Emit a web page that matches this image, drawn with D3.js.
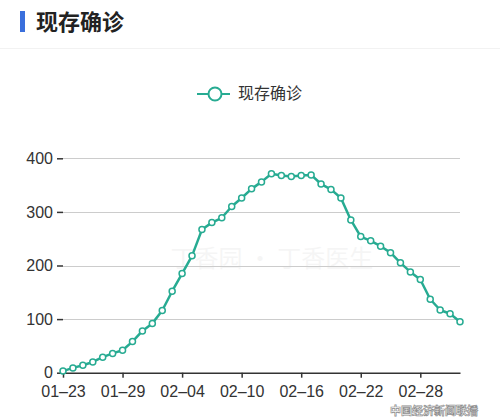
<!DOCTYPE html>
<html>
<head>
<meta charset="utf-8">
<script src="https://cdn.jsdelivr.net/npm/d3@7/dist/d3.min.js"></script>
<style>
  html, body { margin: 0; padding: 0; background: #fff; }
  svg { display: block; }
</style>
</head>
<body>
<svg id="chart" width="500" height="417"></svg>
<script>
const title = "现存确诊";
const seriesName = "现存确诊";
const dates = [
  "01-23","01-24","01-25","01-26","01-27","01-28","01-29","01-30","01-31","02-01",
  "02-02","02-03","02-04","02-05","02-06","02-07","02-08","02-09","02-10","02-11",
  "02-12","02-13","02-14","02-15","02-16","02-17","02-18","02-19","02-20","02-21",
  "02-22","02-23","02-24","02-25","02-26","02-27","02-28","02-29","03-01","03-02","03-03"
];
const values = [
  3, 9, 14, 20, 29, 36, 42, 58, 78, 92,
  116, 152, 185, 218, 267, 280, 289, 310, 326, 343,
  356, 371, 368, 366, 368, 369, 352, 342, 326, 285,
  254, 246, 236, 224, 205, 188, 174, 137, 117, 110, 95
];
const yTicks = [0, 100, 200, 300, 400];
const xTickLabels = ["01-23","01-29","02-04","02-10","02-16","02-22","02-28"];
const watermark = "丁香园 · 丁香医生";
const logoText = "中国经济新闻联播";

const svg = d3.select("#chart");
const color = "#27ab92";
const cjk = "'Noto Sans CJK SC', 'Noto Sans', sans-serif";
const num = "'Liberation Sans', Arial, sans-serif";

// Title
svg.append("rect").attr("x", 20).attr("y", 11).attr("width", 5).attr("height", 21).attr("fill", "#3a6fdc");
svg.append("text").attr("x", 36).attr("y", 30).text(title)
  .attr("font-family", cjk).attr("font-size", 22).attr("font-weight", "bold").attr("fill", "#222");
svg.append("line").attr("x1", 0).attr("x2", 500).attr("y1", 48.5).attr("y2", 48.5)
  .attr("stroke", "#f2f2f2").attr("stroke-width", 1);

// Scales
const x = d3.scalePoint().domain(dates).range([63, 460]);
const y = d3.scaleLinear().domain([0, 400]).range([372.7, 158.3]);

// Watermark
svg.append("text").attr("x", 272).attr("y", 267).attr("text-anchor", "middle")
  .text(watermark).attr("font-family", cjk).attr("font-size", 24)
  .attr("fill", "#000").attr("opacity", 0.035);

// Grid
svg.append("g").selectAll("line").data(yTicks.filter(d => d > 0)).join("line")
  .attr("x1", 63).attr("x2", 460)
  .attr("y1", d => Math.round(y(d)) + 0.5).attr("y2", d => Math.round(y(d)) + 0.5)
  .attr("stroke", "#cccccc").attr("stroke-width", 1.2);

// Y axis
const yAxis = d3.axisLeft(y).tickValues(yTicks).tickSize(6).tickPadding(4);
const gy = svg.append("g").attr("transform", "translate(63,0)").call(yAxis);
gy.select(".domain").remove();
gy.selectAll(".tick line").attr("stroke", "#333").attr("stroke-width", 1.5);
gy.selectAll(".tick text").attr("font-family", num).attr("font-size", 16).attr("fill", "#333");

// X axis
const xAxis = d3.axisBottom(x).tickValues(xTickLabels).tickSize(5).tickSizeOuter(0).tickPadding(8);
const gx = svg.append("g").attr("transform", `translate(0,${y(0)})`).call(xAxis);
gx.select(".domain").attr("stroke", "#333").attr("stroke-width", 1.5);
gx.selectAll(".tick line").attr("stroke", "#333").attr("stroke-width", 1.5);
gx.selectAll(".tick text").attr("font-family", num).attr("font-size", 16).attr("fill", "#333")
  .text(d => d.replace("-", "–"));

// Line
const line = d3.line().x((d, i) => x(dates[i])).y(d => y(d));
svg.append("path").datum(values).attr("d", line)
  .attr("fill", "none").attr("stroke", color).attr("stroke-width", 2.5).attr("stroke-linejoin", "round");
svg.append("g").selectAll("circle").data(values).join("circle")
  .attr("cx", (d, i) => x(dates[i])).attr("cy", d => y(d)).attr("r", 3)
  .attr("fill", "#fff").attr("stroke", color).attr("stroke-width", 1.5);

// Legend
const lg = svg.append("g");
lg.append("line").attr("x1", 197).attr("x2", 230).attr("y1", 94).attr("y2", 94)
  .attr("stroke", color).attr("stroke-width", 2);
lg.append("circle").attr("cx", 215).attr("cy", 94).attr("r", 6.5)
  .attr("fill", "#fff").attr("stroke", color).attr("stroke-width", 2);
lg.append("text").attr("x", 238).attr("y", 99).text(seriesName)
  .attr("font-family", cjk).attr("font-size", 16).attr("fill", "#333");

// Corner logo watermark (placed below the tick labels)
svg.append("text").attr("x", 390).attr("y", 415).text(logoText)
  .attr("font-family", cjk).attr("font-size", 11).attr("font-weight", "bold")
  .attr("fill", "#fff").attr("stroke", "#777").attr("stroke-width", 0.7).attr("opacity", 0.85);
</script>
</body>
</html>
